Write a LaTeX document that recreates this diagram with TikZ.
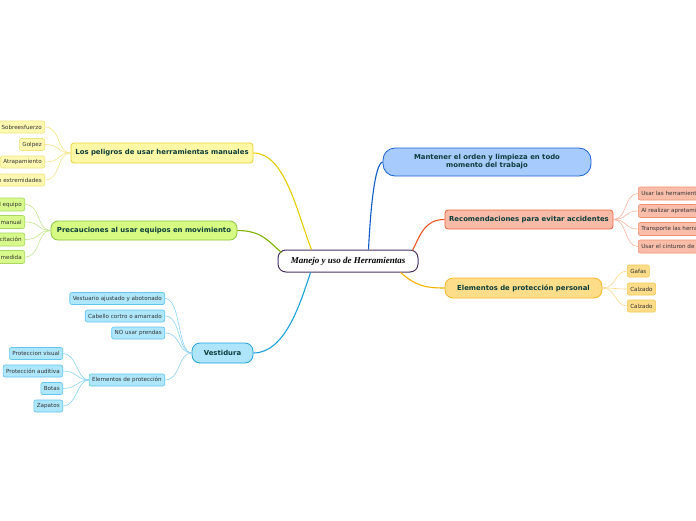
\documentclass[tikz,border=0pt]{standalone}
\usepackage{fontspec}
\setmainfont{DejaVu Sans}
\newfontfamily\centralfont{Liberation Serif}
\definecolor{tealtext}{HTML}{0B3D3A}
\definecolor{childtext}{HTML}{333333}
\definecolor{ylfill}{HTML}{FFF8A6}\definecolor{yldraw}{HTML}{E8D232}\definecolor{ylline}{HTML}{E8CF00}
\definecolor{ylcfill}{HTML}{FFF9B2}\definecolor{ylcdraw}{HTML}{F2E47A}\definecolor{ylcline}{HTML}{F4E78C}
\definecolor{grfill}{HTML}{D6FA82}\definecolor{grdraw}{HTML}{8CC63F}\definecolor{grline}{HTML}{7DB500}
\definecolor{grcfill}{HTML}{D8FA8C}\definecolor{grcdraw}{HTML}{A8D860}\definecolor{grcline}{HTML}{C4E690}
\definecolor{blfill}{HTML}{AEE5FB}\definecolor{bldraw}{HTML}{22A3DE}\definecolor{blline}{HTML}{1BA1E2}
\definecolor{blcfill}{HTML}{AEE6FB}\definecolor{blcdraw}{HTML}{62C5EE}\definecolor{blcline}{HTML}{8DD5F4}
\definecolor{dbfill}{HTML}{A8CBFD}\definecolor{dbdraw}{HTML}{1A62D2}\definecolor{dbline}{HTML}{0D5CC8}
\definecolor{rdfill}{HTML}{F8BBA8}\definecolor{rddraw}{HTML}{EE6440}\definecolor{rdline}{HTML}{F05522}
\definecolor{rdcfill}{HTML}{F9BDAA}\definecolor{rdcdraw}{HTML}{F0906E}\definecolor{rdcline}{HTML}{F8B6A0}
\definecolor{orfill}{HTML}{FDDD8A}\definecolor{ordraw}{HTML}{F8B820}\definecolor{orline}{HTML}{F8B000}
\definecolor{orcfill}{HTML}{FDDC8A}\definecolor{orcdraw}{HTML}{F8C850}\definecolor{orcline}{HTML}{FDD98A}
\definecolor{centdraw}{HTML}{4B3266}
\tikzset{
  pbox/.style={draw, line width=0.8pt, rounded corners=3pt, inner sep=0pt, align=center,
    font=\bfseries\fontsize{6.9}{8}\selectfont, text=tealtext},
  cbox/.style={draw, line width=0.6pt, rounded corners=2pt, inner xsep=3pt, inner ysep=0pt,
    minimum height=12pt, font=\fontsize{5.6}{6.5}\selectfont, text=childtext},
  bigline/.style={line width=1.1pt},
  smallline/.style={line width=0.6pt},
}
\begin{document}
\begin{tikzpicture}[x=1pt,y=-1pt]
\useasboundingbox (0,0) rectangle (696,520);
\clip (0,0) rectangle (696,520);
\fill[white] (0,0) rectangle (696,520);

% central
\node[draw=centdraw, line width=1pt, fill=white, rounded corners=8pt, minimum width=140pt, minimum height=22pt, inner sep=0pt,
  font=\centralfont\bfseries\itshape\fontsize{9}{10}\selectfont, text=black] (c) at (348,261) {Manejo y uso de Herramientas};

% main branches
\node[pbox, fill=ylfill, draw=yldraw, minimum width=182pt, minimum height=20pt] (p1) at (162,153) {Los peligros de usar herramientas manuales};
\node[pbox, fill=grfill, draw=grdraw, rounded corners=7pt, minimum width=186pt, minimum height=19pt] (p2) at (144,230.5) {Precauciones al usar equipos en movimiento};
\node[pbox, fill=blfill, draw=bldraw, rounded corners=8pt, minimum width=61pt, minimum height=20pt] (p3) at (222.5,353) {Vestidura};
\node[pbox, fill=dbfill, draw=dbdraw, rounded corners=12pt, minimum width=208pt, minimum height=28pt] (p4) at (487,162) {Mantener el orden y limpieza en todo\\momento del trabajo};
\node[pbox, fill=rdfill, draw=rddraw, minimum width=168pt, minimum height=19pt] (p5) at (529,219.5) {Recomendaciones para evitar accidentes};
\node[pbox, fill=orfill, draw=ordraw, rounded corners=8pt, minimum width=157pt, minimum height=20pt] (p6) at (523.5,288) {Elementos de protección personal};

% main connectors
\draw[bigline, ylline] (p1.east) .. controls +(32,0) and +(-14,-35) .. ([xshift=34pt]c.north west);
\draw[bigline, grline] (p2.east) .. controls +(25,0) and +(-12,-10) .. ([xshift=4pt,yshift=-3pt]c.north west);
\draw[bigline, blline] (p3.east) .. controls +(32,0) and +(-10,30) .. ([xshift=33pt]c.south west);
\draw[bigline, dbline] (p4.west) .. controls +(-8,2) and +(2,-40) .. ([xshift=91pt]c.north west);
\draw[bigline, rdline] (p5.west) .. controls +(-20,0) and +(8,-16) .. ([xshift=-6pt,yshift=-1pt]c.north east);
\draw[bigline, orline] ([xshift=-18pt]c.south east) .. controls +(15,13) and +(-20,0) .. (p6.west);

% yellow children
\node[cbox, fill=ylcfill, draw=ylcdraw, anchor=east] (y1) at (45,127) {Sobreesfuerzo};
\node[cbox, fill=ylcfill, draw=ylcdraw, anchor=east] (y2) at (45,144.5) {Golpez};
\node[cbox, fill=ylcfill, draw=ylcdraw, anchor=east] (y3) at (45,162) {Atrapamiento};
\node[cbox, fill=ylcfill, draw=ylcdraw, anchor=east] (y4) at (45,180) {Lesiones en extremidades};
\foreach \n in {y1,y2,y3,y4}
  \draw[smallline, ylcline] (\n.east) .. controls +(16,0) and +(-14,0) .. (p1.west);

% green children
\node[cbox, fill=grcfill, draw=grcdraw, minimum height=13pt, anchor=east] (g1) at (25,204.5) {Revisar el equipo};
\node[cbox, fill=grcfill, draw=grcdraw, minimum height=13pt, anchor=east] (g2) at (25,222) {Leer el manual};
\node[cbox, fill=grcfill, draw=grcdraw, minimum height=13pt, anchor=east] (g3) at (25,239.5) {Capacitación};
\node[cbox, fill=grcfill, draw=grcdraw, minimum height=13pt, anchor=east] (g4) at (25,257) {Tomar medida};
\foreach \n in {g1,g2,g3,g4}
  \draw[smallline, grcline] (\n.east) .. controls +(16,0) and +(-14,0) .. (p2.west);

% blue children
\node[cbox, fill=blcfill, draw=blcdraw, anchor=east] (b1) at (165,298.5) {Vestuario ajustado y abotonado};
\node[cbox, fill=blcfill, draw=blcdraw, anchor=east] (b2) at (165,316) {Cabello cortro o amarrado};
\node[cbox, fill=blcfill, draw=blcdraw, anchor=east] (b3) at (165,333) {NO usar prendas};
\node[cbox, fill=blcfill, draw=blcdraw, anchor=east] (b4) at (165,380) {Elementos de protección};
\foreach \n in {b1,b2,b3,b4}
  \draw[smallline, blcline] (\n.east) .. controls +(16,0) and +(-14,0) .. (p3.west);

\node[cbox, fill=blcfill, draw=blcdraw, anchor=east] (e1) at (63,353.5) {Proteccion visual};
\node[cbox, fill=blcfill, draw=blcdraw, anchor=east] (e2) at (63,371) {Protección auditiva};
\node[cbox, fill=blcfill, draw=blcdraw, anchor=east] (e3) at (63,388.5) {Botas};
\node[cbox, fill=blcfill, draw=blcdraw, anchor=east] (e4) at (63,406) {Zapatos};
\foreach \n in {e1,e2,e3,e4}
  \draw[smallline, blcline] (\n.east) .. controls +(14,0) and +(-12,0) .. (b4.west);

% red children
\node[cbox, fill=rdcfill, draw=rdcdraw, minimum height=13pt, anchor=west] (r1) at (638,193.5) {Usar las herramientas adecuadas};
\node[cbox, fill=rdcfill, draw=rdcdraw, minimum height=13pt, anchor=west] (r2) at (638,211) {Al realizar apretamientos};
\node[cbox, fill=rdcfill, draw=rdcdraw, minimum height=13pt, anchor=west] (r3) at (638,229) {Transporte las herramientas};
\node[cbox, fill=rdcfill, draw=rdcdraw, minimum height=13pt, anchor=west] (r4) at (638,246.5) {Usar el cinturon de herramientas};
\foreach \n in {r1,r2,r3,r4}
  \draw[smallline, rdcline] (p5.east) .. controls +(14,0) and +(-14,0) .. (\n.west);

% orange children
\node[cbox, fill=orcfill, draw=orcdraw, anchor=west] (o1) at (627,271) {Gafas};
\node[cbox, fill=orcfill, draw=orcdraw, anchor=west] (o2) at (627,289) {Calzado};
\node[cbox, fill=orcfill, draw=orcdraw, anchor=west] (o3) at (627,306) {Calzado};
\foreach \n in {o1,o2,o3}
  \draw[smallline, orcline] (p6.east) .. controls +(14,0) and +(-12,0) .. (\n.west);
\end{tikzpicture}
\end{document}
